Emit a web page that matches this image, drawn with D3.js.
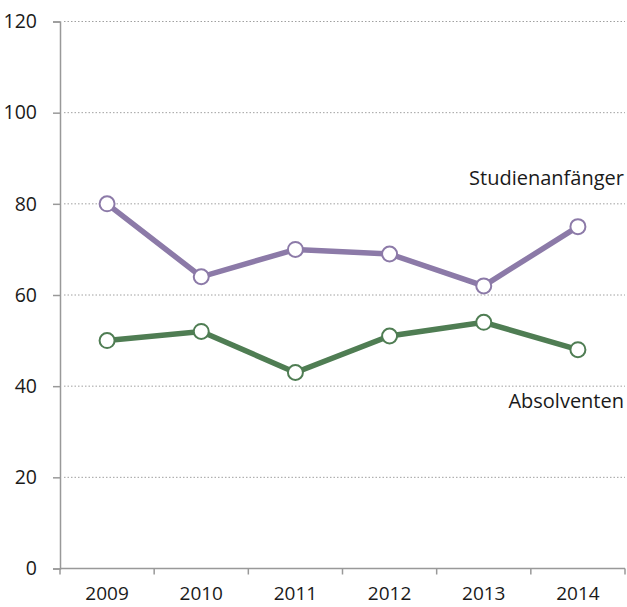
<!DOCTYPE html>
<html lang="de">
<head>
	<meta charset="utf-8">
	<title>Studienanfänger und Absolventen</title>
	<style>
		body { margin: 0; background: #fff; }
		text { font-family: "Open Sans", "Noto Sans", sans-serif; fill: #1a1a1a; }
	</style>
</head>
<body>
	<div id="chart"></div>

	<script src="https://cdn.jsdelivr.net/npm/d3@7/dist/d3.min.js"></script>
	<script>

		// data
		const years = ["2009", "2010", "2011", "2012", "2013", "2014"];
		const studienanfaenger = [80, 64, 70, 69, 62, 75];
		const absolventen = [50, 52, 43, 51, 54, 48];
		const yTicks = [0, 20, 40, 60, 80, 100, 120];

		const W = 627, H = 607;
		const margin = {top: 21.5, right: 2, bottom: 38.5, left: 60};

		const svg = d3.select("#chart").append("svg")
			.attr("width", W)
			.attr("height", H);

		const x = d3.scaleBand()
			.domain(years)
			.range([margin.left, W - margin.right]);

		const y = d3.scaleLinear()
			.domain([0, 120])
			.range([H - margin.bottom, margin.top]);

		// dotted gridlines
		svg.append("g")
			.selectAll("line")
			.data(yTicks.filter(d => d > 0))
			.join("line")
			.attr("x1", margin.left + 4)
			.attr("x2", W - margin.right)
			.attr("y1", d => y(d))
			.attr("y2", d => y(d))
			.attr("stroke", "#a0a0a0")
			.attr("stroke-width", 1)
			.attr("stroke-dasharray", "1.5,2");

		// y axis
		const yAxis = svg.append("g")
			.attr("transform", "translate(" + margin.left + ",0)")
			.call(d3.axisLeft(y).tickValues(yTicks).tickSize(7).tickPadding(16));
		yAxis.select(".domain").attr("stroke", "#999").attr("stroke-width", 1.5);
		yAxis.selectAll(".tick line").attr("stroke", "#999").attr("stroke-width", 1.5);
		yAxis.selectAll(".tick text")
			.attr("fill", "#1a1a1a")
			.style("font-size", "19.5px")
			.style("font-family", "'Open Sans', sans-serif");

		// x axis: ticks at band edges, labels centred in bands
		const xAxis = svg.append("g")
			.attr("transform", "translate(0," + y(0) + ")");
		xAxis.append("line")
			.attr("x1", margin.left)
			.attr("x2", W - margin.right)
			.attr("stroke", "#999")
			.attr("stroke-width", 1.5);
		const edges = years.map(d => x(d)).concat([x(years[years.length - 1]) + x.bandwidth()]);
		xAxis.selectAll(".edge")
			.data(edges)
			.join("line")
			.attr("class", "edge")
			.attr("x1", d => d)
			.attr("x2", d => d)
			.attr("y1", 0)
			.attr("y2", 6)
			.attr("stroke", "#999")
			.attr("stroke-width", 1.5);
		xAxis.selectAll(".lbl")
			.data(years)
			.join("text")
			.attr("class", "lbl")
			.attr("x", d => x(d) + x.bandwidth() / 2)
			.attr("y", 31.5)
			.attr("text-anchor", "middle")
			.style("font-size", "19px")
			.text(d => d);

		const series = [
			{name: "Studienanfänger", values: studienanfaenger, color: "#8c7aa8", labelValue: 84.2},
			{name: "Absolventen", values: absolventen, color: "#4f7d53", labelValue: 35.2}
		];

		const line = d3.line()
			.x((d, i) => x(years[i]) + x.bandwidth() / 2)
			.y(d => y(d));

		series.forEach(s => {
			const g = svg.append("g");
			g.append("path")
				.datum(s.values)
				.attr("fill", "none")
				.attr("stroke", s.color)
				.attr("stroke-width", 5.5)
				.attr("d", line);
			g.selectAll("circle")
				.data(s.values)
				.join("circle")
				.attr("cx", (d, i) => x(years[i]) + x.bandwidth() / 2)
				.attr("cy", d => y(d))
				.attr("r", 7.5)
				.attr("fill", "#fff")
				.attr("stroke", s.color)
				.attr("stroke-width", 2);
			svg.append("text")
				.attr("x", W - 3)
				.attr("y", y(s.labelValue))
				.attr("text-anchor", "end")
				.style("font-size", "20px")
				.text(s.name);
		});

	</script>
</body>
</html>
